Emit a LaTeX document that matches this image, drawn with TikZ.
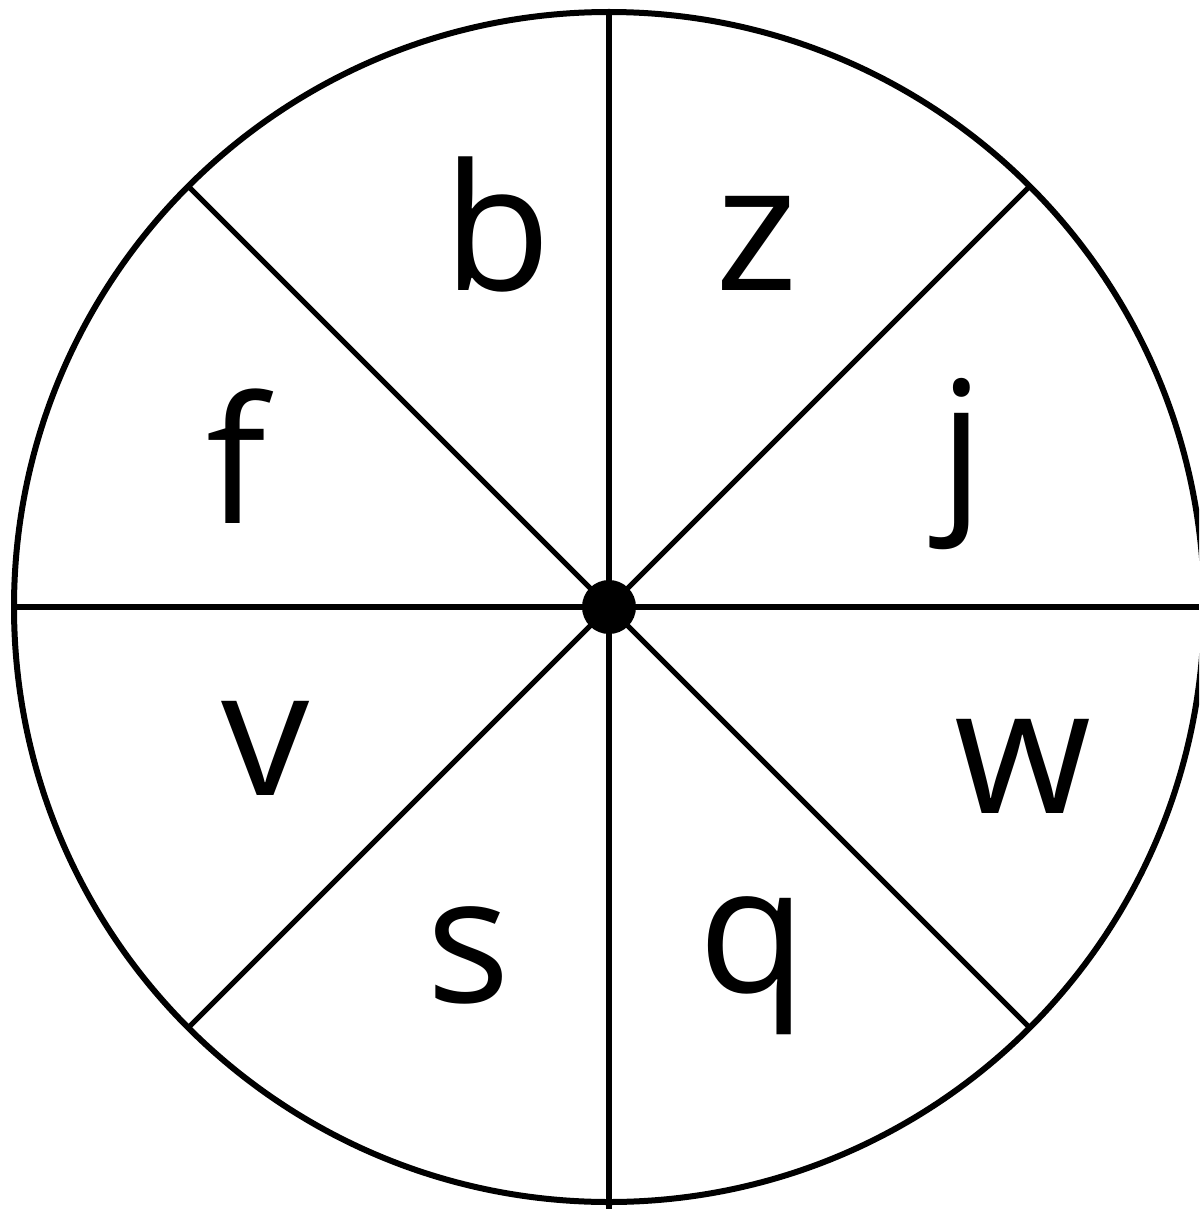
\documentclass[tikz,border=0pt]{standalone}
\usepackage{fontspec}
\setmainfont{Open Sans}
\begin{document}
\begin{tikzpicture}[x=0.5pt,y=-0.5pt,
  rim/.style={draw=black,circle,line width=3pt,minimum size=595pt,inner sep=0pt,outer sep=0pt},
  hub/.style={fill=black,circle,minimum size=27pt,inner sep=0pt,outer sep=0pt},
  spoke/.style={draw=black,line width=2.6pt},
  lbl/.style={anchor=base,font=\fontsize{88pt}{88pt}\selectfont,inner sep=0pt}]
\useasboundingbox (0,0) rectangle (1199,1209);
\clip (0,0) rectangle (1199,1209);
\coordinate (O) at (609,607);
\node[rim] (C) at (O) {};
\coordinate (E) at (1199,607);
\coordinate (S) at (609,1209);
\draw[spoke] (O) -- (E);
\draw[spoke] (O) -- (S);
\draw[spoke] (O) -- (C.north);
\draw[spoke] (O) -- (C.west);
\draw[spoke] (O) -- (C.45);
\draw[spoke] (O) -- (C.135);
\draw[spoke] (O) -- (C.225);
\draw[spoke] (O) -- (C.315);
\node[hub] (H) at (O) {};
\node[lbl] (b) at (497,291) {b};
\node[lbl] (z) at (757,291) {z};
\node[lbl] (f) at (236,523) {f};
\node[lbl] (j) at (962,507) {j};
\node[lbl] (v) at (266,795) {v};
\node[lbl] (w) at (1023,813) {w};
\node[lbl] (s) at (468,1002) {s};
\node[lbl] (q) at (752,992) {q};
\end{tikzpicture}
\end{document}
